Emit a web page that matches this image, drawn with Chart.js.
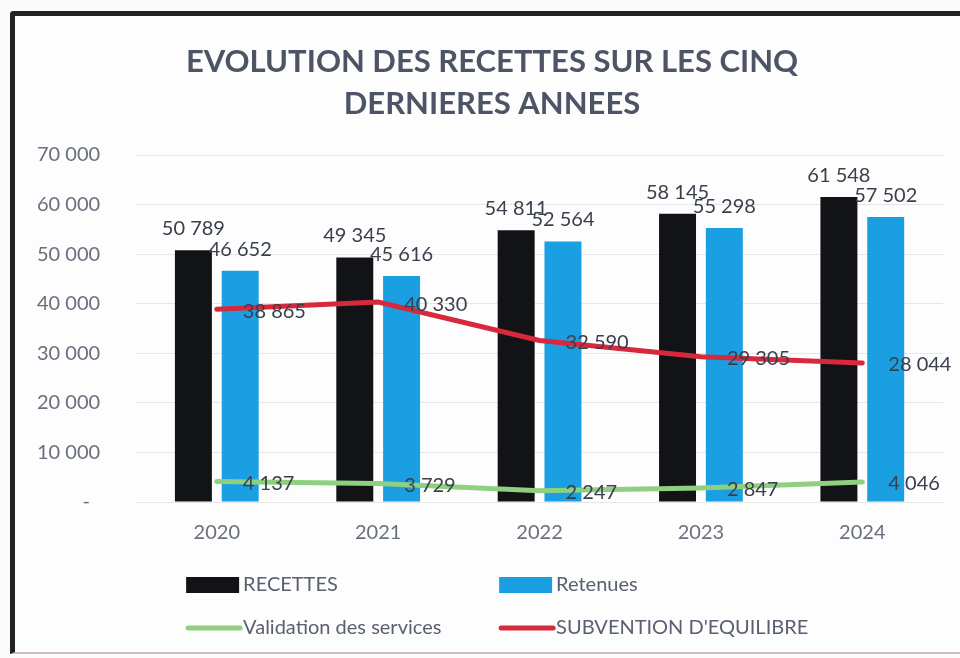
<!DOCTYPE html>
<html><head><meta charset="utf-8">
<script src="https://cdn.jsdelivr.net/npm/chart.js"></script>
<style>
html,body{margin:0;padding:0;background:#fbfbfb;}
#wrap{position:relative;width:960px;height:658px;overflow:hidden;}
#frame{position:absolute;left:10px;top:11px;width:990px;height:643px;border-left:5px solid #222;border-top:5px solid #222;border-bottom:2px solid #cdbfbf;border-radius:4px 0 0 0;background:#fdfdfd;box-sizing:border-box}
canvas{position:absolute;left:0;top:0;}
</style>
</head><body>
<div id="wrap"><div id="frame"></div><canvas id="c" width="960" height="658"></canvas></div>
<script>
const categories = ['2020', '2021', '2022', '2023', '2024'];
const recettes = [50789, 49345, 54811, 58145, 61548];
const retenues = [46652, 45616, 52564, 55298, 57502];
const validation = [4137, 3729, 2247, 2847, 4046];
const subvention = [38865, 40330, 32590, 29305, 28044];
const seriesNames = ['RECETTES', 'Retenues', 'Validation des services', "SUBVENTION D'EQUILIBRE"];
const titleLines = ['EVOLUTION DES RECETTES SUR LES CINQ', 'DERNIERES ANNEES'];
const yMin = 0, yMax = 70000, yStep = 10000;

function fmt(v) { return String(v).replace(/\B(?=(\d{3})+(?!\d))/g, ' '); }

const FONT = 'Lato';

const dataLabels = {
  id: 'dataLabels',
  afterDatasetsDraw(chart) {
    const ctx = chart.ctx;
    ctx.save();
    ctx.font = '20px ' + FONT;
    ctx.fillStyle = '#3a3f4c';
    chart.data.datasets.forEach((ds, i) => {
      const meta = chart.getDatasetMeta(i);
      meta.data.forEach((el, j) => {
        const t = fmt(ds.data[j]);
        if (meta.type === 'bar') {
          ctx.textAlign = 'center'; ctx.textBaseline = 'alphabetic';
          ctx.fillText(t, el.x, el.y - 15);
        } else {
          ctx.textAlign = 'left'; ctx.textBaseline = 'middle';
          ctx.fillText(t, el.x + 26, el.y + 2);
        }
      });
    });
    ctx.restore();
  }
};

const gridLegend = {
  id: 'gridLegend',
  afterDraw(chart) {
    const ctx = chart.ctx, a = chart.chartArea;
    const cols = [a.left + 50, a.left + 363];
    const rows = [a.bottom + 83, a.bottom + 126];
    ctx.save();
    ctx.font = '20px ' + FONT;
    ctx.textAlign = 'left'; ctx.textBaseline = 'middle';
    chart.data.datasets.forEach((ds, i) => {
      const x = cols[i % 2], y = rows[Math.floor(i / 2)];
      if (ds.type === 'bar') {
        ctx.fillStyle = ds.backgroundColor;
        ctx.fillRect(x, y - 8, 53, 16);
      } else {
        ctx.strokeStyle = ds.borderColor; ctx.lineWidth = 5; ctx.lineCap = 'round';
        ctx.beginPath(); ctx.moveTo(x + 2, y); ctx.lineTo(x + 54, y); ctx.stroke();
      }
      ctx.fillStyle = '#5a6072';
      ctx.fillText(ds.label, x + 57, y);
    });
    ctx.restore();
  }
};

// shift the title block so it is centred where the original one is
const titleShift = {
  id: 'titleShift',
  afterLayout(chart) {
    if (chart.titleBlock) { chart.titleBlock.left += 40; }
  }
};

new Chart(document.getElementById('c'), {
  type: 'bar',
  data: {
    labels: categories,
    datasets: [
      { type: 'bar', label: seriesNames[0], data: recettes, backgroundColor: '#121316', order: 2, barPercentage: 0.79, categoryPercentage: 0.58 },
      { type: 'bar', label: seriesNames[1], data: retenues, backgroundColor: '#1a9fe3', order: 2, barPercentage: 0.79, categoryPercentage: 0.58 },
      { type: 'line', label: seriesNames[2], data: validation, borderColor: '#8fcf80', backgroundColor: '#8fcf80', borderWidth: 5, pointRadius: 0, tension: 0, order: 1, borderCapStyle: 'round' },
      { type: 'line', label: seriesNames[3], data: subvention, borderColor: '#d8283c', backgroundColor: '#d8283c', borderWidth: 5, pointRadius: 0, tension: 0, order: 1, borderCapStyle: 'round' }
    ]
  },
  options: {
    responsive: false,
    animation: false,
    devicePixelRatio: 1,
    layout: { padding: { left: 1, right: 17, top: 0, bottom: 94 } },
    plugins: {
      legend: { display: false },
      tooltip: { enabled: false },
      title: {
        display: true,
        text: titleLines,
        color: '#4d5466',
        font: { family: FONT, size: 31, weight: 'bold', lineHeight: 1.355 },
        padding: { top: 41, bottom: 30 }
      }
    },
    scales: {
      x: {
        grid: { display: false, drawTicks: false },
        border: { display: false },
        ticks: { font: { family: FONT, size: 20 }, color: '#6a6f7d', padding: 19 }
      },
      y: {
        min: yMin, max: yMax,
        grid: { color: '#e6e6e6', drawTicks: false, lineWidth: 1 },
        border: { display: false },
        ticks: { stepSize: yStep, font: { family: FONT, size: 20 }, color: '#6a6f7d', padding: 36,
          callback: v => v === 0 ? '-  ' : fmt(v) }
      }
    }
  },
  plugins: [dataLabels, gridLegend, titleShift]
});
</script>
</body></html>
